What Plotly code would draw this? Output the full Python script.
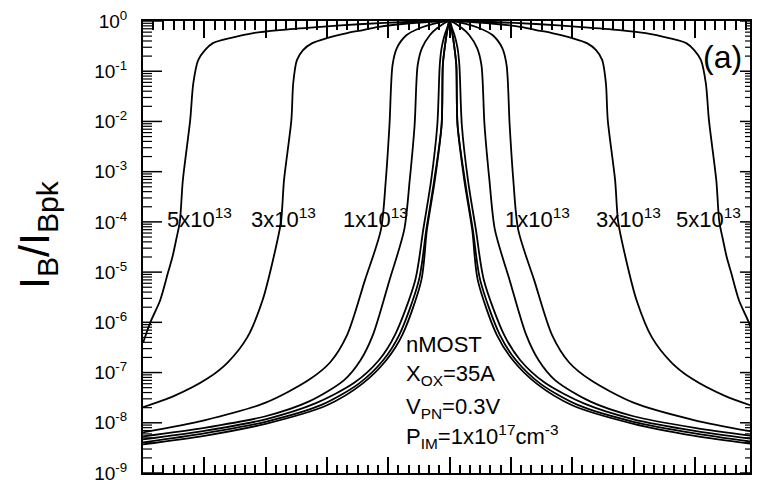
import math
import plotly.graph_objects as go

# ---- data: distance from peak centre (major-tick units) and log10(IB/IBpk) ----
d_5e13 = [0, 0.7, 1.41, 2.16, 2.77, 3.2, 3.58, 3.86, 3.99, 4.10, 4.18, 4.23, 4.35, 4.40, 4.46, 4.52, 4.59, 4.72, 4.88, 5.0]
L_5e13 = [0, -0.02, -0.06, -0.12, -0.18, -0.24, -0.34, -0.44, -0.58, -0.78, -1.24, -1.97, -3.17, -4.0, -4.36, -4.7, -5.0, -5.56, -6.0, -6.41]

d_3e13 = [0, 0.6, 1.18, 1.41, 1.67, 2.0, 2.24, 2.39, 2.49, 2.55, 2.58, 2.70, 2.75, 2.88, 3.05, 3.3, 3.62, 3.95, 4.5, 5.0]
L_3e13 = [0, -0.04, -0.12, -0.18, -0.24, -0.34, -0.44, -0.58, -0.78, -1.24, -1.97, -3.17, -4.0, -4.76, -5.56, -6.3, -6.8, -7.12, -7.47, -7.69]

d_1e13 = [0, 0.25, 0.48, 0.70, 0.86, 0.93, 0.98, 1.04, 1.12, 1.38, 1.67, 1.95, 2.3, 3.0, 4.0, 5.0]
L_1e13 = [0, -0.05, -0.14, -0.28, -0.54, -0.88, -2.07, -3.17, -4.16, -5.16, -6.25, -6.8, -7.15, -7.6, -7.95, -8.19]

d_b = [0, 0.2, 0.32, 0.45, 0.52, 0.57, 0.65, 0.74, 0.98, 1.25, 1.45, 1.72, 2.3, 3.0, 4.0, 5.0]
L_b = [0, -0.14, -0.28, -0.54, -0.88, -2.07, -3.17, -4.16, -5.16, -6.25, -6.75, -7.15, -7.58, -7.87, -8.1, -8.27]

d_c = [0, 0.04, 0.08, 0.13, 0.16, 0.2, 0.3, 0.43, 0.56, 0.89, 1.15, 1.55, 2.2, 3.0, 4.0, 5.0]
L_c = [0, -0.14, -0.28, -0.54, -0.88, -2.07, -3.17, -4.16, -5.16, -6.25, -6.75, -7.2, -7.62, -7.93, -8.16, -8.33]

d_d = [0, 0.03, 0.05, 0.08, 0.11, 0.13, 0.25, 0.38, 0.50, 0.82, 1.08, 1.48, 2.1, 3.0, 4.0, 5.0]
L_d = [0, -0.14, -0.28, -0.54, -0.88, -2.07, -3.17, -4.16, -5.16, -6.25, -6.75, -7.22, -7.65, -7.98, -8.21, -8.39]

d_e = [0, 0.03, 0.05, 0.08, 0.11, 0.13, 0.24, 0.37, 0.46, 0.77, 1.03, 1.42, 2.0, 3.0, 4.0, 5.0]
L_e = [0, -0.14, -0.28, -0.54, -0.88, -2.07, -3.17, -4.16, -5.16, -6.25, -6.75, -7.22, -7.65, -8.02, -8.26, -8.43]

curves = [(d_5e13, L_5e13), (d_3e13, L_3e13), (d_1e13, L_1e13),
          (d_b, L_b), (d_c, L_c), (d_d, L_d), (d_e, L_e)]

y_tick_exp = [0, -1, -2, -3, -4, -5, -6, -7, -8, -9]
y_tick_text = ["10<sup>%d</sup>" % e for e in y_tick_exp]
x_major_ticks = [-5, -4, -3, -2, -1, 0, 1, 2, 3, 4]

curve_labels = ["5x10<sup>13</sup>", "3x10<sup>13</sup>", "1x10<sup>13</sup>",
                "1x10<sup>13</sup>", "3x10<sup>13</sup>", "5x10<sup>13</sup>"]

FONT = "Liberation Sans, Arial, sans-serif"
X_RANGE = [-5, 4.9]
Y_RANGE = [-9.0, 0.0]   # log10 decades, axis labelled as powers of ten

y_minor_vals = [e + math.log10(k) for e in y_tick_exp[1:] for k in range(2, 10)]
x_minor_vals = [m + j / 6 for m in x_major_ticks for j in range(1, 6)]

W, H = 758, 480
L0, R0, T0, B0 = 143, 750, 21, 473
pw, ph = R0 - L0, B0 - T0
x_per_px = (X_RANGE[1] - X_RANGE[0]) / pw

fig = go.Figure()
for d, L in curves:
    xs = [-v for v in reversed(d)] + d[1:]
    ys = list(reversed(L)) + L[1:]
    fig.add_trace(go.Scatter(x=xs, y=ys, mode="lines",
                             line=dict(color="black", width=1.8, shape="spline", smoothing=0.8),
                             showlegend=False, hoverinfo="skip"))

# inward tick marks of the left / right y axes, drawn as line segments from the axis edges
def tick_segments(vals, edge, length_px):
    xs, ys = [], []
    for v in vals:
        xs += [edge, edge + length_px * x_per_px, None]
        ys += [v, v, None]
    return xs, ys

for vals, edge, ln, w in [(y_tick_exp, X_RANGE[0], 19, 1.5), (y_minor_vals, X_RANGE[0], 9, 1.2),
                          (y_tick_exp, X_RANGE[1], -10, 1.5), (y_minor_vals, X_RANGE[1], -5, 1.2)]:
    tx, ty = tick_segments(vals, edge, ln)
    fig.add_trace(go.Scatter(x=tx, y=ty, mode="lines", line=dict(color="black", width=w),
                             showlegend=False, hoverinfo="skip", cliponaxis=False))

# transparent copy bound to the top tick axis so that it is drawn
fig.add_trace(go.Scatter(x=[-d for d in reversed(d_5e13)], y=list(reversed(L_5e13)),
                         xaxis="x2", yaxis="y", mode="lines",
                         line=dict(color="rgba(0,0,0,0)", width=1),
                         showlegend=False, hoverinfo="skip"))

def px(x):
    return (x - L0) / pw

def py(y):
    return (B0 - y) / ph

ann = []
label_x = [199, 283, 375, 537, 628, 708]
for lx, t in zip(label_x, curve_labels):
    ann.append(dict(x=px(lx), y=py(218), xref="paper", yref="paper", text=t, showarrow=False,
                    xanchor="center", yanchor="middle", font=dict(size=22, color="black", family=FONT)))

ann.append(dict(x=px(722), y=py(57), xref="paper", yref="paper", text="(a)", showarrow=False,
                xanchor="center", yanchor="middle", font=dict(size=32, color="black", family=FONT)))

block = [("nMOST", 344), ("X<sub>OX</sub>=35A", 375), ("V<sub>PN</sub>=0.3V", 408),
         ("P<sub>IM</sub>=1x10<sup>17</sup>cm<sup>-3</sup>", 436)]
for t, yy in block:
    ann.append(dict(x=px(404), y=py(yy), xref="paper", yref="paper", text=t, showarrow=False,
                    xanchor="left", yanchor="middle", font=dict(size=22, color="black", family=FONT)))

ann.append(dict(x=px(37), y=py(234), xref="paper", yref="paper",
                text="I<sub>B</sub>/I<sub>Bpk</sub>", showarrow=False, textangle=-90,
                xanchor="center", yanchor="middle", font=dict(size=43, color="black", family=FONT)))

base = dict(showgrid=False, zeroline=False, showline=True, linecolor="black", linewidth=2,
            tickcolor="black", tickwidth=1.5, automargin=False)

fig.update_layout(
    width=W, height=H,
    margin=dict(l=L0, r=W - R0, t=T0, b=H - B0, autoexpand=False),
    paper_bgcolor="white", plot_bgcolor="white",
    font=dict(family=FONT, color="black"),
    annotations=ann,
    xaxis=dict(range=X_RANGE, **base, ticks="inside", ticklen=16,
               tickmode="array", tickvals=x_major_ticks, showticklabels=False,
               minor=dict(ticks="inside", ticklen=8, tickwidth=1.5, tickcolor="black",
                          tickmode="array", tickvals=x_minor_vals, showgrid=False)),
    xaxis2=dict(range=X_RANGE, overlaying="x", side="top", anchor="y", **base,
                ticks="inside", ticklen=17,
                tickmode="array", tickvals=x_major_ticks, showticklabels=False,
                minor=dict(ticks="inside", ticklen=9, tickwidth=1.5, tickcolor="black",
                           tickmode="array", tickvals=x_minor_vals, showgrid=False)),
    yaxis=dict(range=Y_RANGE, **base, mirror=True,
               ticks="outside", ticklen=10,
               tickmode="array", tickvals=y_tick_exp, ticktext=y_tick_text,
               tickfont=dict(size=19, family=FONT, color="black"),
               ticklabeloverflow="allow"),
)
fig.update_yaxes(tickcolor="rgba(0,0,0,0)")

fig.write_html("out.html")
